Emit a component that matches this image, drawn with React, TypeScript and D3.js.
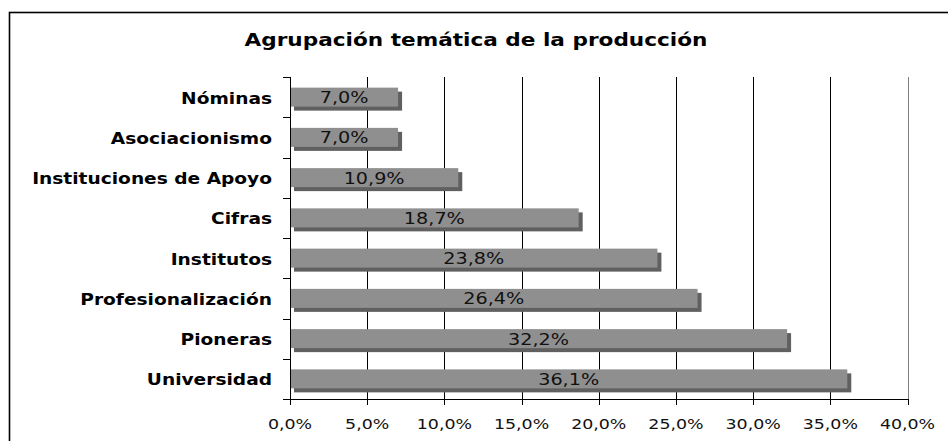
import React from "react";
import * as d3 from "d3";

const categories = [
  "Nóminas",
  "Asociacionismo",
  "Instituciones de Apoyo",
  "Cifras",
  "Institutos",
  "Profesionalización",
  "Pioneras",
  "Universidad",
];
const values = [7.0, 7.0, 10.9, 18.7, 23.8, 26.4, 32.2, 36.1];
const xTicks = [0, 5, 10, 15, 20, 25, 30, 35, 40];
const title = "Agrupación temática de la producción";

const W = 948;
const H = 441;
const left = 290;
const right = 907.5;
const top = 77;
const bottom = 399;
const SX = 1.2;

const fmt = (v: number) => v.toFixed(1).replace(".", ",") + "%";

function T(props: { x: number; y: number; anchor: string; size: number; bold?: boolean; fill?: string; children: any }) {
  return (
    <text
      transform={`translate(${props.x},${props.y}) scale(${SX},1)`}
      textAnchor={props.anchor}
      fontFamily="'DejaVu Sans', Verdana, sans-serif"
      fontWeight={props.bold ? "bold" : "normal"}
      fontSize={props.size}
      fill={props.fill || "#000"}
    >
      {props.children}
    </text>
  );
}

export default function App() {
  const x = d3.scaleLinear().domain([0, 40]).range([left, right]);
  const y = d3.scaleBand<string>().domain(categories).range([top, bottom]).paddingInner(0).paddingOuter(0);
  const bw = y.bandwidth();
  const barH = 19;
  const off = 4;

  return (
    <svg width={W} height={H} style={{ position: "absolute", left: 0, top: 0 }}>
      <rect x={0} y={0} width={W} height={H} fill="#fff" />
      <rect x={9.5} y={12.5} width={1200} height={1200} fill="none" stroke="#000" strokeWidth={1.6} />
      <T x={476} y={45.5} anchor="middle" size={18} bold>
        {title}
      </T>
      {/* gridlines */}
      {xTicks.slice(1).map((t) => (
        <line key={"g" + t} x1={Math.round(x(t)) + 0.5} x2={Math.round(x(t)) + 0.5} y1={top} y2={bottom}
          stroke={t === 40 ? "#808080" : "#000"} strokeWidth={1} />
      ))}
      {/* bars */}
      {categories.map((c, i) => {
        const yc = (y(c) as number) + bw / 2;
        const y0 = yc - barH / 2;
        const w = x(values[i]) - x(0);
        return (
          <g key={c}>
            <rect x={x(0) + off} y={y0 + off} width={w} height={barH} fill="#606060" />
            <rect x={x(0)} y={y0} width={w} height={barH} fill="#8f8f8f" />
            <T x={x(0) + w / 2} y={yc + 6} anchor="middle" size={16} fill="#111">
              {fmt(values[i])}
            </T>
            <T x={272} y={yc + 6.5} anchor="end" size={15.5} bold>
              {c}
            </T>
          </g>
        );
      })}
      {/* left axis */}
      <line x1={left + 0.5} x2={left + 0.5} y1={top} y2={bottom} stroke="#000" strokeWidth={1} />
      {d3.range(categories.length + 1).map((i) => {
        const yy = Math.round(top + i * bw) + 0.5;
        return <line key={"yt" + i} x1={283} x2={left} y1={yy} y2={yy} stroke="#000" strokeWidth={1} />;
      })}
      {/* bottom axis */}
      <line x1={left} x2={right + 1} y1={bottom + 0.5} y2={bottom + 0.5} stroke="#000" strokeWidth={1} />
      {xTicks.map((t) => (
        <g key={"xt" + t}>
          <line x1={Math.round(x(t)) + 0.5} x2={Math.round(x(t)) + 0.5} y1={bottom} y2={bottom + 6} stroke="#000" strokeWidth={1} />
          <T x={x(t)} y={428.5} anchor="middle" size={14.5} fill="#111">
            {fmt(t)}
          </T>
        </g>
      ))}
    </svg>
  );
}
